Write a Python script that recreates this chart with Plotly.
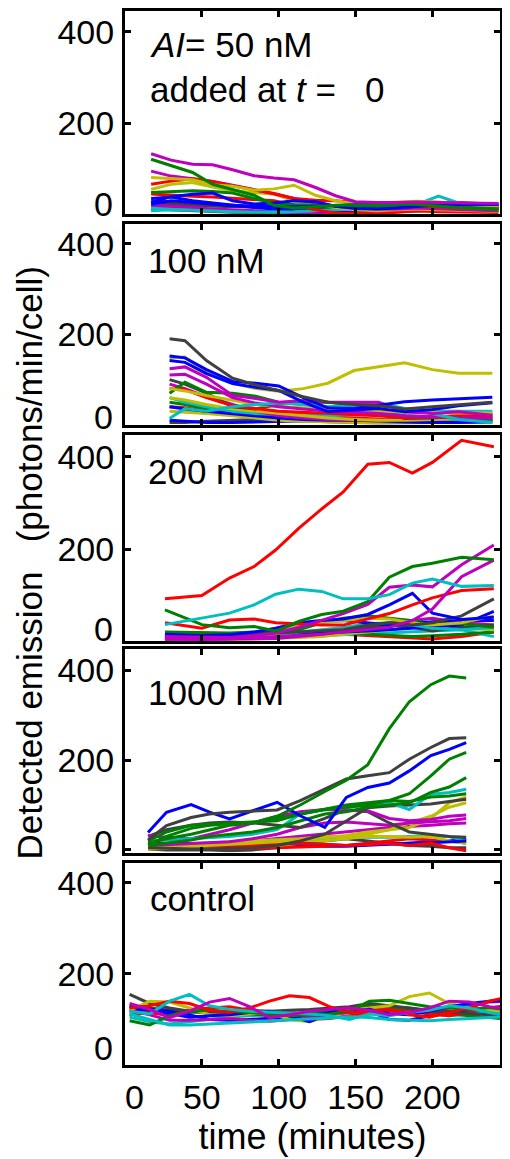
import plotly.graph_objects as go

# ---------------- data ----------------
COLORS = {'b': '#0000FF', 'g': '#008000', 'r': '#FF0000', 'c': '#00BFBF',
          'm': '#BF00BF', 'y': '#BFBF00', 'k': '#404040'}

panel_labels = ["100 nM", "200 nM", "1000 nM", "control"]
x_tickvals = [0, 50, 100, 150, 200]
x_ticktext = ["\u00a0\u00a00", "50", "100", "150", "200"]
y_tickvals = [0, 200, 400]
y_ticktext = ["", "200", "400"]

# AI = 50 nM
t_50 = [17, 30, 44, 57, 70, 84, 97, 110, 124, 137, 150, 164, 177, 190, 204, 217, 230, 243]
c_50 = "kkcmkbcrymrgybbgm"
v_50 = [
    [25, 22, 20, 18, 17, 16, 15, 14, 13, 13, 14, 16, 18, 20, 24, 26, 24, 20],
    [12, 10, 8, 6, 5, 4, 4, 5, 6, 7, 8, 9, 10, 12, 14, 13, 12, 11],
    [15, 14, 12, 10, 8, 6, 5, 4, 3, 3, 4, 5, 6, 6, 7, 8, 9, 10],
    [20, 18, 15, 12, 10, 8, 5, 3, 2, 2, 3, 4, 6, 8, 10, 12, 14, 15],
    [30, 28, 25, 22, 20, 18, 16, 12, 10, 9, 8, 8, 9, 10, 11, 12, 13, 14],
    [35, 38, 30, 25, 20, 15, 12, 10, 8, 6, 5, 6, 8, 10, 12, 14, 16, 18],
    [8, 10, 9, 7, 6, 5, 5, 6, 8, 10, 12, 14, 18, 22, 40, 25, 18, 14],
    [45, 42, 40, 38, 35, 33, 30, 20, 10, 3, 2, 2, 5, 8, 6, 5, 4, 4],
    [55, 66, 70, 60, 52, 48, 44, 30, 22, 15, 10, 8, 10, 12, 10, 9, 8, 7],
    [95, 84, 78, 72, 64, 55, 45, 35, 25, 18, 14, 12, 12, 14, 12, 10, 9, 8],
    [66, 73, 78, 72, 63, 55, 46, 35, 31, 30, 26, 22, 20, 18, 16, 14, 13, 12],
    [48, 50, 52, 50, 47, 35, 25, 22, 20, 18, 17, 18, 20, 22, 18, 15, 14, 13],
    [81, 79, 76, 65, 62, 53, 56, 64, 42, 30, 23, 25, 27, 29, 27, 23, 21, 19],
    [22, 30, 26, 22, 19, 18, 17, 17, 18, 20, 21, 22, 24, 25, 24, 23, 22, 22],
    [26, 39, 44, 47, 30, 23, 25, 30, 28, 18, 13, 12, 14, 17, 21, 22, 22, 23],
    [121, 107, 92, 66, 55, 42, 20, 14, 17, 20, 20, 21, 23, 22, 18, 15, 13, 10],
    [133, 119, 110, 109, 98, 85, 80, 76, 59, 41, 28, 26, 26, 27, 26, 25, 24, 24],
]

# 100 nM
t_100 = [29, 39, 53, 70, 85, 100, 116, 132, 149, 165, 182, 200, 217, 239]
c_100 = "kbygrbcmykrgymcmybbk"
v_100 = [
    [5, 5, 8, 10, 12, 10, 8, 6, 5, 4, 4, 5, 6, 8],
    [10, 8, 5, 5, 6, 7, 8, 10, 12, 10, 8, 8, 9, 10],
    [30, 28, 25, 20, 15, 10, 8, 6, 5, 5, 6, 8, 10, 12],
    [50, 45, 35, 28, 22, 18, 15, 12, 10, 10, 12, 12, 13, 14],
    [40, 38, 30, 28, 26, 28, 25, 18, 15, 12, 10, 12, 14, 16],
    [40, 35, 30, 25, 20, 15, 12, 10, 10, 8, 6, 5, 5, 6],
    [60, 50, 40, 30, 25, 22, 20, 20, 22, 25, 28, 30, 30, 30],
    [90, 80, 62, 45, 30, 20, 15, 12, 10, 10, 12, 15, 18, 20],
    [60, 55, 45, 35, 30, 25, 20, 15, 12, 10, 10, 12, 14, 15],
    [100, 90, 70, 40, 35, 45, 50, 50, 45, 38, 14, 15, 20, 25],
    [80, 78, 60, 42, 36, 30, 28, 25, 22, 20, 15, 18, 20, 20],
    [70, 94, 72, 70, 63, 50, 45, 40, 30, 25, 20, 18, 15, 12],
    [80, 75, 65, 55, 45, 40, 38, 35, 33, 30, 28, 28, 26, 26],
    [110, 112, 90, 60, 48, 40, 35, 30, 28, 25, 20, 18, 15, 15],
    [14, 36, 30, 40, 45, 48, 45, 40, 42, 48, 36, 25, 12, 5],
    [124, 128, 105, 65, 58, 50, 54, 50, 50, 50, 29, 25, 29, 21],
    [148, 150, 115, 92, 80, 74, 80, 92, 120, 129, 137, 122, 114, 114],
    [142, 138, 113, 91, 83, 76, 50, 29, 33, 36, 29, 34, 42, 49],
    [152, 148, 122, 96, 92, 86, 60, 37, 36, 44, 51, 55, 57, 61],
    [190, 186, 142, 103, 88, 75, 62, 50, 45, 42, 35, 40, 45, 50],
]

# 200 nM
t_200 = [26, 50, 68, 84, 98, 113, 128, 142, 158, 172, 187, 200, 219, 240]
c_200 = "rcgyymkbcgbykbrmmgcr"
v_200 = [
    [5, 5, 6, 8, 10, 12, 15, 15, 12, 10, 8, 5, 10, 20],
    [5, 5, 5, 6, 8, 10, 12, 14, 16, 18, 20, 22, 25, 10],
    [12, 10, 10, 12, 15, 18, 20, 18, 15, 12, 10, 12, 15, 20],
    [8, 6, 6, 7, 8, 10, 12, 15, 20, 25, 30, 35, 40, 45],
    [3, 3, 4, 5, 6, 8, 10, 15, 25, 40, 45, 38, 28, 25],
    [8, 5, 5, 5, 6, 10, 15, 22, 30, 40, 45, 50, 40, 35],
    [8, 10, 12, 14, 16, 18, 20, 25, 30, 35, 30, 22, 30, 35],
    [5, 5, 6, 8, 10, 15, 18, 20, 22, 25, 28, 30, 35, 65],
    [18, 15, 10, 8, 10, 20, 25, 30, 38, 40, 35, 28, 25, 30],
    [20, 18, 18, 20, 18, 25, 40, 50, 55, 50, 45, 40, 38, 30],
    [10, 8, 10, 15, 20, 35, 42, 45, 40, 35, 38, 42, 45, 45],
    [12, 10, 10, 12, 15, 35, 40, 45, 50, 48, 40, 35, 40, 55],
    [10, 12, 14, 15, 18, 20, 22, 25, 35, 40, 35, 40, 55, 92],
    [15, 12, 14, 20, 28, 40, 45, 48, 58, 79, 104, 61, 47, 52],
    [40, 28, 46, 48, 40, 38, 35, 35, 48, 60, 79, 94, 110, 114],
    [5, 3, 5, 8, 10, 12, 15, 20, 25, 30, 45, 70, 140, 176],
    [10, 8, 8, 12, 18, 30, 45, 60, 80, 117, 122, 118, 166, 209],
    [68, 36, 29, 32, 22, 43, 58, 65, 86, 139, 162, 169, 182, 177],
    [36, 50, 61, 79, 102, 113, 108, 92, 92, 101, 126, 135, 119, 121],
    [92, 99, 137, 162, 198, 245, 287, 324, 384, 388, 365, 388, 436, 422],
]

# 1000 nM
t_1000 = [15, 27, 43, 55, 68, 83, 99, 114, 130, 144, 158, 172, 185, 199, 211, 222]
c_1000 = "kbrcybrmyymkmkcgggbkg"
v_1000 = [
    [2, 0, 0, 0, -2, 0, 5, 15, 20, 25, 20, 15, 10, 8, 5, 5],
    [5, 5, 6, 8, 10, 12, 12, 10, 8, 8, 10, 12, 15, 18, 20, 25],
    [5, 5, 4, 3, 3, 4, 5, 6, 8, 10, 15, 20, 25, 22, 20, 15],
    [8, 10, 12, 14, 15, 18, 20, 22, 25, 28, 28, 28, 30, 32, 30, 20],
    [2, 3, 4, 5, 6, 8, 10, 15, 20, 25, 30, 30, 28, 30, 20, 15],
    [15, 14, 14, 15, 16, 17, 18, 15, 12, 10, 12, 14, 15, 16, 18, 20],
    [15, 12, 10, 8, 8, 10, 12, 15, 12, 10, 12, 15, 10, 15, 5, -2],
    [5, 8, 10, 12, 15, 20, 25, 30, 35, 40, 45, 50, 52, 55, 58, 60],
    [3, 5, 8, 10, 12, 15, 18, 22, 28, 32, 40, 45, 60, 75, 95, 105],
    [5, 8, 10, 15, 18, 20, 22, 25, 30, 30, 35, 45, 50, 70, 105, 118],
    [10, 12, 14, 15, 18, 25, 35, 50, 60, 62, 58, 55, 60, 62, 65, 70],
    [30, 45, 55, 60, 62, 60, 55, 50, 70, 90, 85, 60, 40, 35, 30, 28],
    [32, 28, 25, 35, 45, 60, 75, 85, 90, 88, 87, 70, 65, 68, 75, 78],
    [5, 3, 2, 2, 3, 5, 10, 20, 35, 64, 94, 98, 100, 102, 108, 113],
    [20, 22, 25, 28, 30, 35, 45, 80, 90, 95, 100, 105, 90, 124, 128, 135],
    [20, 40, 55, 57, 60, 62, 65, 80, 90, 100, 105, 110, 108, 118, 120, 125],
    [10, 15, 22, 30, 35, 40, 50, 65, 80, 85, 95, 100, 105, 128, 140, 161],
    [15, 25, 35, 45, 55, 60, 70, 80, 90, 95, 100, 110, 125, 165, 202, 217],
    [39, 84, 101, 84, 69, 87, 106, 76, 50, 117, 139, 149, 176, 210, 224, 239],
    [22, 54, 72, 80, 84, 87, 89, 110, 135, 158, 165, 172, 202, 228, 248, 250],
    [12, 30, 48, 55, 58, 60, 75, 100, 130, 155, 190, 270, 330, 368, 387, 383],
]

# control
t_ctrl = [3, 16, 29, 42, 55, 68, 81, 94, 107, 120, 133, 146, 159, 172, 185, 198, 211, 224, 237, 250]
c_ctrl = "kcgbrmkybgrccm"
v_ctrl = [
    [130, 125, 120, 118, 115, 118, 120, 118, 115, 112, 118, 122, 125, 128, 125, 120, 118, 115, 118, 120],
    [105, 95, 90, 95, 100, 105, 108, 110, 112, 115, 118, 115, 112, 118, 120, 112, 108, 112, 115, 112],
    [125, 118, 112, 115, 118, 116, 112, 108, 110, 115, 120, 125, 130, 125, 120, 118, 112, 108, 105, 100],
    [118, 122, 118, 110, 100, 98, 100, 102, 105, 108, 115, 122, 118, 100, 98, 108, 115, 120, 125, 130],
    [110, 115, 108, 120, 125, 128, 120, 110, 105, 100, 102, 108, 115, 120, 118, 112, 108, 115, 125, 130],
    [120, 110, 98, 98, 100, 102, 98, 96, 100, 105, 110, 115, 118, 112, 115, 118, 125, 130, 138, 140],
    [155, 135, 125, 118, 115, 112, 115, 118, 120, 122, 125, 128, 135, 130, 125, 118, 115, 112, 110, 110],
    [120, 140, 138, 125, 110, 108, 112, 115, 100, 95, 108, 120, 125, 130, 150, 158, 135, 125, 120, 118],
    [128, 120, 112, 105, 108, 110, 115, 118, 108, 95, 112, 118, 122, 112, 110, 118, 128, 135, 140, 142],
    [97, 88, 108, 118, 120, 118, 115, 112, 108, 110, 112, 118, 140, 142, 135, 128, 125, 122, 126, 120],
    [125, 130, 140, 135, 120, 115, 125, 140, 152, 148, 128, 115, 118, 122, 110, 105, 115, 125, 140, 150],
    [112, 100, 88, 88, 90, 92, 95, 96, 98, 100, 103, 106, 104, 100, 98, 97, 100, 102, 104, 106],
    [118, 112, 140, 155, 130, 122, 118, 116, 115, 112, 108, 100, 112, 108, 115, 120, 130, 125, 115, 108],
    [135, 122, 104, 118, 138, 146, 128, 104, 110, 118, 122, 125, 120, 110, 115, 125, 140, 138, 128, 122],
]

# ---------------- layout helpers (page pixel coordinates) ----------------
OFF = 8                      # default page body margin
W, H = 502, 1151             # figure size (fits the window with the body margin)
PLOT_L, PLOT_R, PLOT_T, PLOT_B = 125, 500, 8, 1065   # plot area in page pixels
ML = PLOT_L - OFF
MR = W + OFF - PLOT_R
MT = PLOT_T - OFF
MB = H + OFF - PLOT_B
PH = PLOT_B - PLOT_T
PW = PLOT_R - PLOT_L


def py2paper(py):
    return (PLOT_B - py) / PH


def px2paper(px):
    return (px - PLOT_L) / PW


panel_px = [(8, 212), (222, 423), (433, 640), (648, 852), (862, 1065)]
y_ranges = [[0, 446], [0, 443], [0, 448], [-6, 447], [0, 444]]
zero_shift = [10, 8, 12, 8, 17]

FONT = "Arial, Liberation Sans, Helvetica, sans-serif"

panels = [(t_50, c_50, v_50), (t_100, c_100, v_100), (t_200, c_200, v_200),
          (t_1000, c_1000, v_1000), (t_ctrl, c_ctrl, v_ctrl)]

fig = go.Figure()
layout = dict(width=W, height=H, margin=dict(l=ML, r=MR, t=MT, b=MB, pad=0),
              paper_bgcolor='white', plot_bgcolor='white', showlegend=False,
              font=dict(family=FONT, color='black'))

annotations = []
for i, (t, cols, vals) in enumerate(panels):
    n = '' if i == 0 else str(i + 1)
    for c, v in zip(cols, vals):
        fig.add_trace(go.Scatter(x=t, y=v, mode='lines',
                                 line=dict(color=COLORS[c], width=3),
                                 xaxis='x' + n, yaxis='y' + n,
                                 hoverinfo='skip', showlegend=False))
    top, bot = panel_px[i]
    last = (i == 4)
    layout['xaxis' + n] = dict(
        domain=[0, 1], anchor='y' + n, range=[0, 244],
        tickvals=x_tickvals, ticktext=x_ticktext, showticklabels=last,
        ticks='inside', ticklen=6, tickwidth=3, tickcolor='black',
        showline=True, linewidth=3, linecolor='black', mirror='ticks',
        showgrid=False, zeroline=False,
        tickfont=dict(size=34, family=FONT, color='black'),
        title=dict(text='time (minutes)' if last else '', standoff=0,
                   font=dict(size=36, family=FONT, color='black')))
    layout['yaxis' + n] = dict(
        domain=[py2paper(bot), py2paper(top)], anchor='x' + n, range=y_ranges[i],
        tickvals=y_tickvals, ticktext=y_ticktext,
        ticks='inside', ticklen=6, tickwidth=3, tickcolor='black',
        showline=True, linewidth=3, linecolor='black', mirror='ticks',
        showgrid=False, zeroline=False, ticklabelstandoff=1,
        tickfont=dict(size=34, family=FONT, color='black'))
    annotations.append(dict(text='0', xref='paper', yref='y' + n, x=0, y=0,
                            xanchor='right', yanchor='middle', xshift=-10,
                            yshift=zero_shift[i], showarrow=False,
                            font=dict(size=34, family=FONT, color='black')))

label_pos = [(148, 42, "<i>AI</i>= 50 nM"),
             (148, 87, "added at <i>t</i> =\u00a0\u00a0\u00a00"),
             (146, 258, panel_labels[0]),
             (146, 470, panel_labels[1]),
             (146, 691, panel_labels[2]),
             (148, 898, panel_labels[3])]
for px, py, txt in label_pos:
    annotations.append(dict(text=txt, xref='paper', yref='paper',
                            x=px2paper(px), y=py2paper(py),
                            xanchor='left', yanchor='middle', showarrow=False,
                            font=dict(size=35, family=FONT, color='black')))

annotations.append(dict(text="Detected emission\u00a0\u00a0\u00a0(photons/min/cell)",
                        xref='paper', yref='paper', x=px2paper(29), y=py2paper(562),
                        xanchor='center', yanchor='middle', textangle=-90,
                        showarrow=False,
                        font=dict(size=35, family=FONT, color='black')))

layout['annotations'] = annotations
fig.update_layout(**layout)
fig.write_html("out.html")
